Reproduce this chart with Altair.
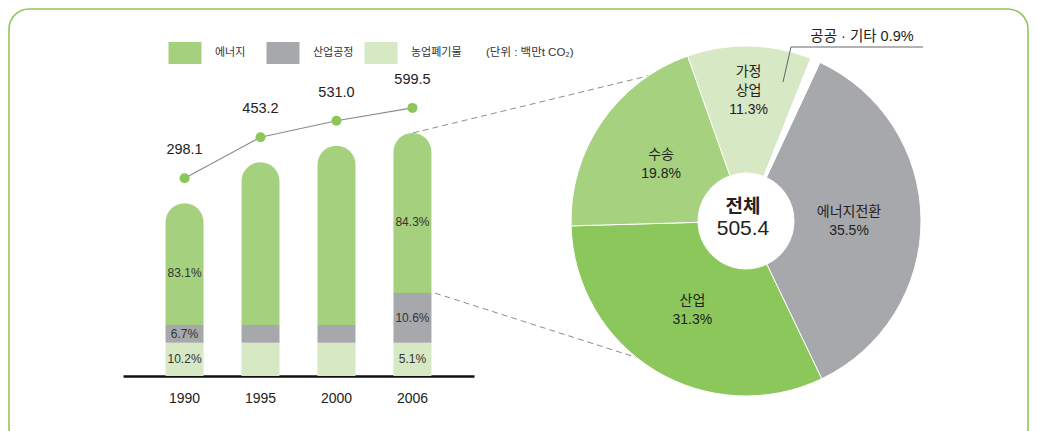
import math
import altair as alt
import numpy as np
import pandas as pd

# ---------------- data ----------------
years = ["1990", "1995", "2000", "2006"]
totals = [298.1, 453.2, 531.0, 599.5]
energy = [247.7, 402.7, 480.5, 505.4]
industrial = [20.0, 20.0, 20.0, 63.5]
agriculture = [30.4, 30.5, 30.5, 30.6]
energy_share = ["83.1%", "", "", "84.3%"]
industrial_share = ["6.7%", "", "", "10.6%"]
agriculture_share = ["10.2%", "", "", "5.1%"]

categories = ["에너지", "산업공정", "농업폐기물"]
category_colors = ["#a5d17e", "#a7a8ab", "#d6e8c4"]
unit_label = "(단위 : 백만t CO₂)"

sectors = ["에너지전환", "산업", "수송", "가정상업", "공공·기타"]
sector_pct = [35.5, 31.3, 19.8, 11.3, 0.9]
sector_labels = ["에너지전환\n35.5%", "산업\n31.3%", "수송\n19.8%", "가정\n상업\n11.3%", ""]
sector_colors = ["#a7a8ab", "#8cc75c", "#a6d17f", "#d6e8c4", "#ffffff"]
outside_label = "공공 · 기타 0.9%"
center_title = "전체"
center_value = 505.4

FONT = "Liberation Sans, 'Noto Sans CJK KR', sans-serif"
KFONT = "'Noto Sans CJK KR', sans-serif"

# ---------------- tables ----------------
SYM_C = 100.0
rows = []
for i, yr in enumerate(years):
    parts = [("농업폐기물", agriculture[i], agriculture_share[i]),
             ("산업공정", industrial[i], industrial_share[i]),
             ("에너지", energy[i], energy_share[i])]
    y0 = 0.0
    for k, (cat, v, lab) in enumerate(parts):
        y1 = y0 + v
        mid = SYM_C * np.expm1((np.log1p(y0 / SYM_C) + np.log1p(y1 / SYM_C)) / 2)
        rows.append(dict(year=yr, category=cat, value=v, y0=y0, y1=y1,
                         mid=float(mid), label=lab, order=k))
        y0 = y1
bars_df = pd.DataFrame(rows)
tot_df = pd.DataFrame({"year": years, "total": totals})
conn_df = pd.DataFrame({"v": [totals[-1], agriculture[-1] + industrial[-1]],
                        "which": ["up", "dn"]})

pie_df = pd.DataFrame({"sector": sectors, "pct": sector_pct,
                       "label": sector_labels, "order": list(range(len(sectors)))})
one = pd.DataFrame({"a": [0]})

# ---------------- scales ----------------
ysc = alt.Scale(type="symlog", constant=SYM_C, domain=[0, 1800])


def Y(field):
    return alt.Y(field, scale=ysc, axis=None)


X = alt.X("year:N", sort=years,
          scale=alt.Scale(range=[115, 466], paddingInner=0.5, paddingOuter=0.56),
          axis=alt.Axis(title=None, domain=True, domainColor="#111111", domainWidth=2.6,
                        ticks=False, labelFontSize=14, labelPadding=15, labelColor="#222222",
                        labelAngle=0, grid=False, labelFont=FONT))

legend = alt.Legend(orient="none", legendX=166, legendY=34, direction="horizontal",
                    title=unit_label, titleOrient="right", titleFontSize=11.5,
                    titleFontWeight="normal", titleColor="#333333", titlePadding=24,
                    titleBaseline="middle", titleAnchor="middle", titleFont=FONT,
                    symbolType="M-1.5,-1H1.5V1H-1.5Z", symbolSize=484,
                    symbolStrokeWidth=0, symbolOpacity=1,
                    labelOffset=19, labelFontSize=11, labelColor="#333333",
                    labelFont=FONT, columnPadding=0, gridAlign="all", padding=0)
C = alt.Color("category:N", scale=alt.Scale(domain=categories, range=category_colors),
              legend=legend)

# ---------------- frame ----------------
frame = alt.Chart(one).mark_rect(filled=False, stroke="#8cc85a", strokeWidth=1.6,
                                 cornerRadius=20).encode(
    x=alt.value(1), x2=alt.value(1020), y=alt.value(1), y2=alt.value(440))

# ---------------- bars ----------------
base = alt.Chart(bars_df)
bar_low = base.transform_filter("datum.category != '에너지'").mark_bar().encode(
    x=X, y=Y("y1:Q"), y2="y0:Q", color=C)
bar_top = base.transform_filter("datum.category == '에너지'").mark_bar(
    cornerRadiusTopLeft=19, cornerRadiusTopRight=19).encode(
    x=X, y=Y("y1:Q"), y2="y0:Q", color=C)
lab_low = base.transform_filter("datum.category != '에너지'").mark_text(
    fontSize=12, color="#333333", font=FONT).encode(
    x=X, y=Y("mid:Q"), text="label:N")
lab_top = base.transform_filter("datum.category == '에너지'").mark_text(
    fontSize=12, color="#333333", font=FONT, dy=9).encode(
    x=X, y=Y("mid:Q"), text="label:N")

# ---------------- totals line ----------------
tbase = alt.Chart(tot_df)
tline = tbase.mark_line(color="#8a8a8a", strokeWidth=1.2, yOffset=-25).encode(
    x=X, y=Y("total:Q"))
tpts = tbase.mark_point(filled=True, size=100, color="#8cc65a", opacity=1, yOffset=-25).encode(
    x=X, y=Y("total:Q"))
tlab = tbase.mark_text(fontSize=14.5, color="#222222", font=FONT, yOffset=-53).encode(
    x=X, y=Y("total:Q"), text=alt.Text("total:Q", format=".1f"))

# ---------------- connectors ----------------
dash = dict(strokeDash=[6, 4], color="#8c8c8c", strokeWidth=1)
conn_up = alt.Chart(conn_df).transform_filter("datum.which == 'up'").mark_rule(**dash).encode(
    x=alt.value(405), y=Y("v:Q"), x2=alt.value(652), y2=alt.value(65))
conn_dn = alt.Chart(conn_df).transform_filter("datum.which == 'dn'").mark_rule(**dash).encode(
    x=alt.value(427), y=Y("v:Q"), x2=alt.value(652), y2=alt.value(357))

# ---------------- pie ----------------
CX, CY = 738, 213
A0 = math.radians(25)
TH = alt.Theta("pct:Q", stack=True, scale=alt.Scale(range=[A0, A0 + 2 * math.pi]))
pbase = alt.Chart(pie_df)
pie = pbase.mark_arc(outerRadius=175, innerRadius=48, stroke="#ffffff", strokeWidth=1).encode(
    theta=TH, order=alt.Order("order:Q"),
    fill=alt.Fill("sector:N", scale=alt.Scale(domain=sectors, range=sector_colors), legend=None),
    x=alt.value(CX), y=alt.value(CY))
ptxt = pbase.transform_calculate(
    t="datum.sector == '가정상업' ? '' : datum.label").mark_text(
    radius=103, fontSize=14, lineBreak="\n", lineHeight=19, color="#222222", font=FONT,
    dy=-8).encode(
    theta=TH, order=alt.Order("order:Q"), text="t:N", x=alt.value(CX), y=alt.value(CY))
ptxt2 = pbase.transform_calculate(
    t="datum.sector == '가정상업' ? datum.label : ''").mark_text(
    radius=132, fontSize=14, lineBreak="\n", lineHeight=19, color="#222222", font=FONT,
    dy=-17).encode(
    theta=TH, order=alt.Order("order:Q"), text="t:N", x=alt.value(CX), y=alt.value(CY))

ctr1 = alt.Chart(one).mark_text(fontSize=19, fontWeight="bold", color="#222222", font=KFONT).encode(
    x=alt.value(CX - 3), y=alt.value(CY - 14), text=alt.value(center_title))
ctr2 = alt.Chart(one).mark_text(fontSize=21, color="#222222", font=FONT).encode(
    x=alt.value(CX - 3), y=alt.value(CY + 8), text=alt.value(f"{center_value:.1f}"))

lead1 = alt.Chart(one).mark_rule(color="#666666", strokeWidth=1).encode(
    x=alt.value(775), y=alt.value(74), x2=alt.value(783), y2=alt.value(39))
lead2 = alt.Chart(one).mark_rule(color="#666666", strokeWidth=1).encode(
    x=alt.value(783), y=alt.value(39), x2=alt.value(915), y2=alt.value(39))
outlab = alt.Chart(one).mark_text(fontSize=14.5, color="#222222", font=FONT).encode(
    x=alt.value(854), y=alt.value(29), text=alt.value(outside_label))

chart = alt.layer(
    frame, conn_up, conn_dn, bar_low, bar_top, lab_low, lab_top, tline, tpts, tlab,
    pie, ptxt, ptxt2, ctr1, ctr2, lead1, lead2, outlab
).properties(
    width=1021, height=368,
    autosize=alt.AutoSizeParams(type="none"),
    padding={"left": 0, "top": 0, "right": 0, "bottom": 55},
).configure(font=FONT).configure_view(strokeWidth=0, stroke=None)

chart.save("out.html", embed_options={"renderer": "svg", "actions": False})
